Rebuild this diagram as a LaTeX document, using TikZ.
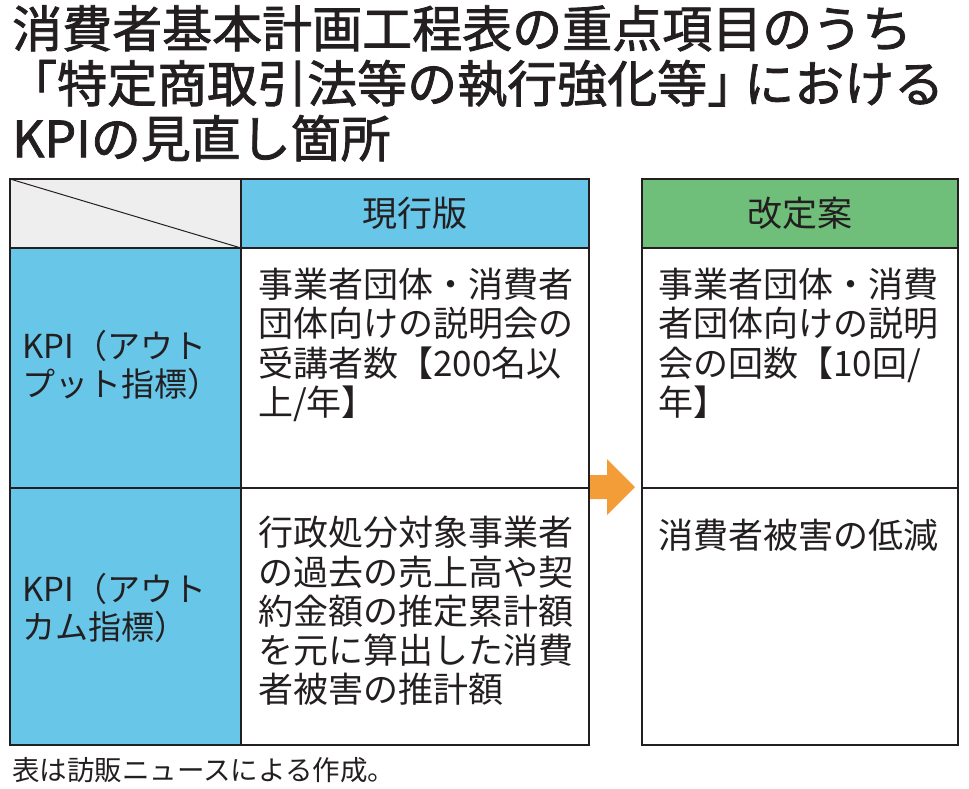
\documentclass[tikz,border=0pt]{standalone}
\usepackage{fontspec}
\newfontfamily\cjk{Noto Sans CJK JP}
\newfontfamily\cjktitle{Noto Sans CJK JP}[FakeBold=1.6]
\definecolor{linec}{HTML}{231F20}
\definecolor{bluecell}{HTML}{68C6E8}
\definecolor{greencell}{HTML}{6FBE7A}
\definecolor{graycell}{HTML}{EEEEEE}
\definecolor{arrowc}{HTML}{F29D38}
\tikzset{
  grid/.style={draw=linec, line width=1.3pt},
  titletext/.style={anchor=north west, inner sep=0pt, align=left, text=linec, font=\cjktitle\fontsize{50}{55}\selectfont},
  bodytext/.style={anchor=north west, inner sep=0pt, align=left, text=linec, font=\cjk\fontsize{35}{39.3}\selectfont},
  headtext/.style={inner sep=0pt, text=linec, font=\cjk\fontsize{35}{39.3}\selectfont},
  kpitext/.style={anchor=north west, inner sep=0pt, align=left, text=linec, font=\cjk\fontsize{33}{38.5}\selectfont},
  foottext/.style={anchor=north west, inner sep=0pt, align=left, text=linec, font=\cjk\fontsize{27.5}{30}\selectfont},
}
\begin{document}
\begin{tikzpicture}[x=1pt, y=-1pt]
\useasboundingbox (0,0) rectangle (969,788);
% title
\node[titletext] (title) at (12,5) {消費者基本計画工程表の重点項目のうち\\\kern-5pt「特定商取引法等の執行強化等」\kern-13pt における\\KPIの見直し箇所};
% fills
\fill[graycell] (10,179) rectangle (241,248);
\fill[bluecell] (241,179) rectangle (589,248);
\fill[bluecell] (10,248) rectangle (241,745);
\fill[greencell] (642,179) rectangle (958,248);
% left table grid
\draw[grid] (10,179) rectangle (589,745);
\draw[grid] (10,248) -- (589,248);
\draw[grid] (10,488) -- (589,488);
\draw[grid] (241,179) -- (241,745);
\draw[grid, line width=1pt] (10,179) -- (241,248);
% right table grid
\draw[grid] (642,179) rectangle (958,745);
\draw[grid] (642,248) -- (958,248);
\draw[grid] (642,488) -- (958,488);
% arrow
\fill[arrowc] (590,475) -- (607,475) -- (607,459) -- (635,487) -- (607,515) -- (607,499) -- (590,499) -- cycle;
% headers
\node[headtext] (hcur) at (415,213) {現行版};
\node[headtext] (hnew) at (800,213) {改定案};
% left labels
\node[kpitext] (kpiout) at (22,330) {KPI（アウト\\プット指標）};
\node[kpitext] (kpicome) at (22,573) {KPI（アウト\\カム指標）};
% current
\node[bodytext] (cur1) at (258,268) {事業者団体・消費者\\団体向けの説明会の\\受講者数【200名以\\上/年】};
\node[bodytext] (cur2) at (258,516) {行政処分対象事業者\\の過去の売上高や契\\約金額の推定累計額\\を元に算出した消費\\者被害の推計額};
% new
\node[bodytext] (new1) at (658,268) {事業者団体・消費\\者団体向けの説明\\会の回数【10回/\\年】};
\node[bodytext] (new2) at (658,519) {消費者被害の低減};
% footer
\node[foottext] (foot) at (12,757) {表は訪販ニュースによる作成。};
\end{tikzpicture}
\end{document}
